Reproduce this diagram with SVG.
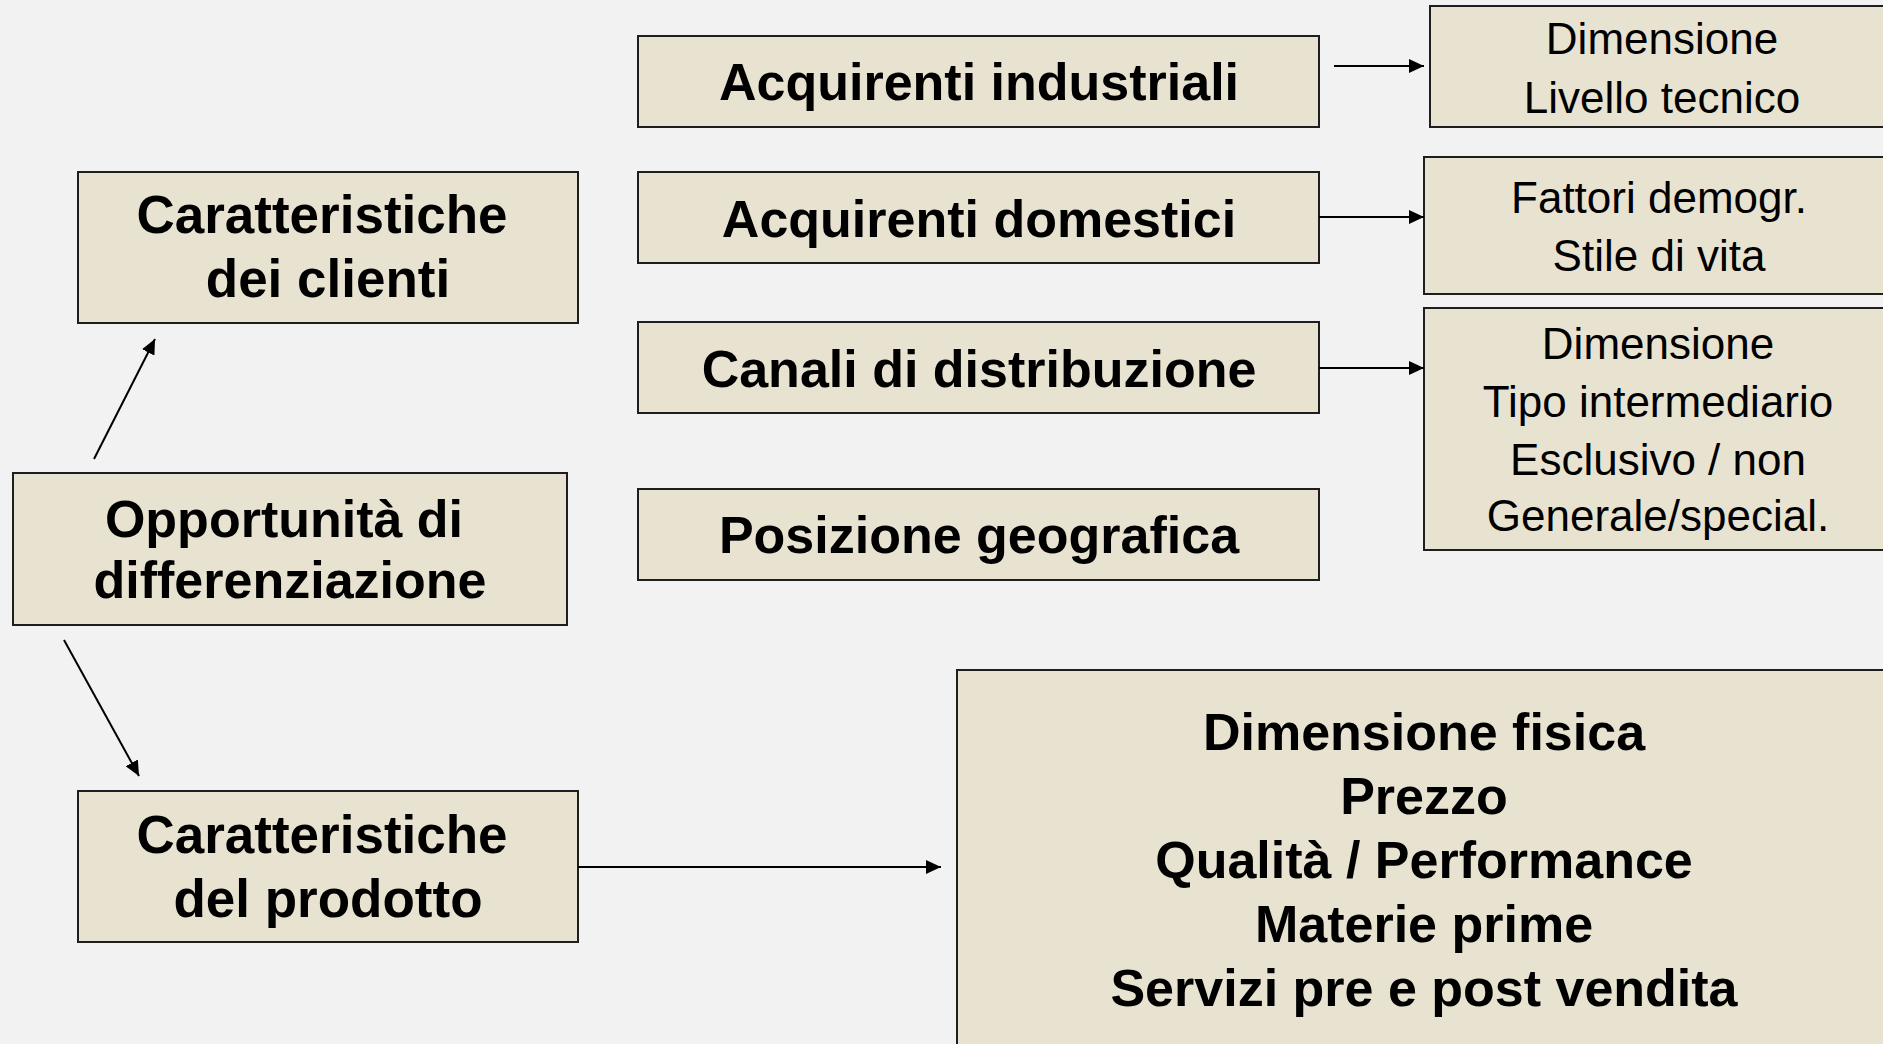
<svg xmlns="http://www.w3.org/2000/svg" width="1883" height="1044" viewBox="0 0 1883 1044">
<defs>
<style>
.box{fill:#e8e3d0;stroke:#1e1e1e;stroke-width:2}
.b{font-family:"Liberation Sans",Arial,sans-serif;font-weight:bold;font-size:52px;fill:#000;text-anchor:middle}
.big{font-size:52px}
.w{font-size:53px}
.r{font-family:"Liberation Sans",Arial,sans-serif;font-size:44px;fill:#000;text-anchor:middle}
.c{stroke:#000;stroke-width:2;fill:none;marker-end:url(#ah)}
</style>
<marker id="ah" markerUnits="userSpaceOnUse" markerWidth="16" markerHeight="14" refX="15" refY="7" orient="auto">
<path d="M0,0 L15,7 L0,14 z" fill="#000"/>
</marker>
</defs>
<rect width="1883" height="1044" fill="#f2f2f2"/>

<g id="acquirenti-industriali">
<rect class="box" x="638" y="36" width="681" height="91"/>
<text class="b" x="979" y="100">Acquirenti industriali</text>
</g>
<g id="acquirenti-domestici">
<rect class="box" x="638" y="172" width="681" height="91"/>
<text class="b" x="979" y="237">Acquirenti domestici</text>
</g>
<g id="canali-distribuzione">
<rect class="box" x="638" y="322" width="681" height="91"/>
<text class="b" x="979" y="387">Canali di distribuzione</text>
</g>
<g id="posizione-geografica">
<rect class="box" x="638" y="489" width="681" height="91"/>
<text class="b" x="979" y="553">Posizione geografica</text>
</g>

<g id="caratteristiche-clienti">
<rect class="box" x="78" y="172" width="500" height="151"/>
<text class="b w" x="322" y="233">Caratteristiche</text>
<text class="b w" x="328" y="297">dei clienti</text>
</g>
<g id="opportunita">
<rect class="box" x="13" y="473" width="554" height="152"/>
<text class="b" x="284" y="537">Opportunità di</text>
<text class="b" x="290" y="598">differenziazione</text>
</g>
<g id="caratteristiche-prodotto">
<rect class="box" x="78" y="791" width="500" height="151"/>
<text class="b w" x="322" y="853">Caratteristiche</text>
<text class="b w" x="328" y="917">del prodotto</text>
</g>

<g id="attributi-prodotto">
<rect class="box" x="957" y="670" width="940" height="390"/>
<text class="b big" x="1424" y="750">Dimensione fisica</text>
<text class="b big" x="1424" y="814">Prezzo</text>
<text class="b big" x="1424" y="878">Qualità / Performance</text>
<text class="b big" x="1424" y="942">Materie prime</text>
<text class="b big" x="1424" y="1006">Servizi pre e post vendita</text>
</g>

<g id="dettaglio-industriali">
<rect class="box" x="1430" y="6" width="470" height="121"/>
<text class="r" x="1662" y="54">Dimensione</text>
<text class="r" x="1662" y="113">Livello tecnico</text>
</g>
<g id="dettaglio-domestici">
<rect class="box" x="1424" y="157" width="476" height="137"/>
<text class="r" x="1659" y="213">Fattori demogr.</text>
<text class="r" x="1659" y="271">Stile di vita</text>
</g>
<g id="dettaglio-canali">
<rect class="box" x="1424" y="308" width="476" height="242"/>
<text class="r" x="1658" y="359">Dimensione</text>
<text class="r" x="1658" y="417">Tipo intermediario</text>
<text class="r" x="1658" y="475">Esclusivo / non</text>
<text class="r" x="1658" y="531">Generale/special.</text>
</g>

<g id="connectors">
<line class="c" x1="1334" y1="66" x2="1424" y2="66"/>
<line class="c" x1="1319" y1="217" x2="1424" y2="217"/>
<line class="c" x1="1319" y1="368" x2="1424" y2="368"/>
<line class="c" x1="94" y1="459" x2="155" y2="339"/>
<line class="c" x1="64" y1="640" x2="139" y2="776"/>
<line class="c" x1="578" y1="867" x2="941" y2="867"/>
</g>
</svg>
